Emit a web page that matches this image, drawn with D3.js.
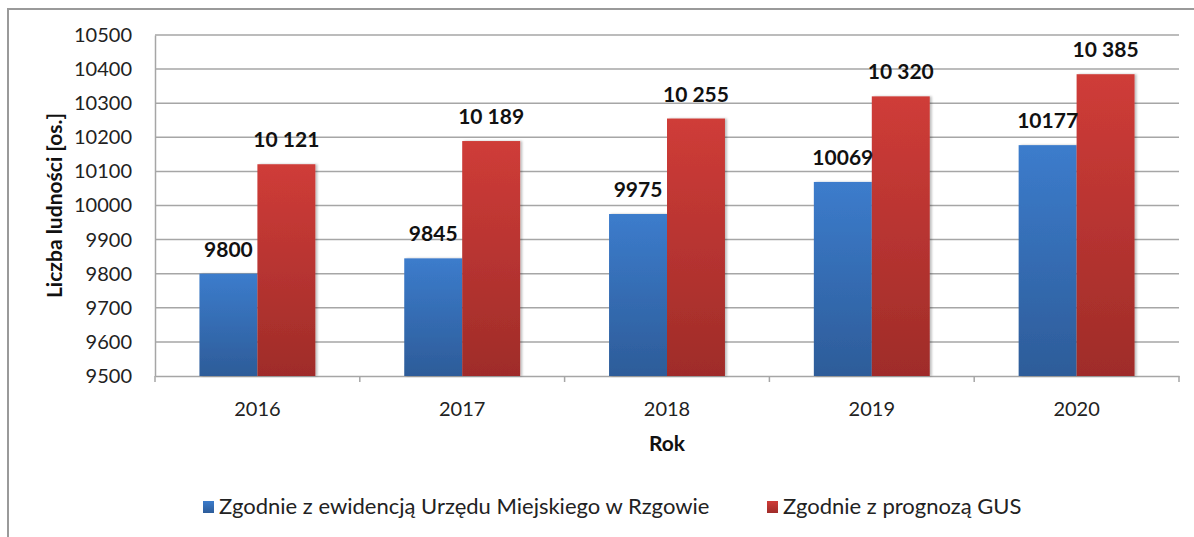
<!DOCTYPE html>
<html>
<head>
<meta charset="utf-8">
<script src="https://cdn.jsdelivr.net/npm/d3@7"></script>
<style>
  html, body { margin: 0; padding: 0; background: #fff; }
  svg { display: block; font-family: Lato, "Open Sans", sans-serif; }
</style>
</head>
<body>
<svg id="chart" width="1194" height="537"></svg>
<script>
// Population of Rzgów, 2016–2020
const years = ["2016", "2017", "2018", "2019", "2020"];
const registry = [9800, 9845, 9975, 10069, 10177];      // Urząd Miejski records
const forecast = [10121, 10189, 10255, 10320, 10385];   // GUS projection
const yTicks = [9500, 9600, 9700, 9800, 9900, 10000, 10100, 10200, 10300, 10400, 10500];
const seriesNames = ["Zgodnie z ewidencją Urzędu Miejskiego w Rzgowie", "Zgodnie z prognozą GUS"];

const svg = d3.select("#chart");
const margin = { left: 155, right: 1179, top: 35, bottom: 376 };

// frame: left and top edges
svg.append("path")
  .attr("d", "M8,537 V9 H1194")
  .attr("fill", "none").attr("stroke", "#9a9a9a").attr("stroke-width", 2);

const defs = svg.append("defs");
function grad(id, top, bottom) {
  const g = defs.append("linearGradient").attr("id", id)
    .attr("x1", 0).attr("y1", 0).attr("x2", 0).attr("y2", 1);
  g.append("stop").attr("offset", "0%").attr("stop-color", top);
  g.append("stop").attr("offset", "100%").attr("stop-color", bottom);
}
grad("gBlue", "#3c7ccc", "#2d5c99");
grad("gRed", "#cf3c38", "#9f2c29");
const shadow = defs.append("filter").attr("id", "shadow")
  .attr("x", "-10%").attr("y", "-5%").attr("width", "130%").attr("height", "110%");
shadow.append("feDropShadow").attr("dx", 2).attr("dy", 0).attr("stdDeviation", 1.2)
  .attr("flood-color", "#000").attr("flood-opacity", 0.25);

const x = d3.scaleBand().domain(years).range([margin.left, margin.right]);
const y = d3.scaleLinear().domain([9500, 10500]).range([margin.bottom, margin.top]);
const barW = x.bandwidth() * 0.283;

// horizontal gridlines
svg.append("g").selectAll("line").data(yTicks.slice(1)).join("line")
  .attr("x1", margin.left).attr("x2", margin.right)
  .attr("y1", d => y(d)).attr("y2", d => y(d))
  .attr("stroke", "#a6a6a6").attr("stroke-width", 1.5);

// y axis
const yAxis = svg.append("g").attr("transform", `translate(${margin.left},0)`)
  .call(d3.axisLeft(y).tickValues(yTicks).tickFormat(d3.format("d")).tickSize(0).tickPadding(23));
yAxis.select(".domain").attr("stroke", "#a6a6a6").attr("stroke-width", 1.5);
yAxis.selectAll("text").attr("font-size", 20).attr("fill", "#222")
  .attr("font-family", "Lato, sans-serif");

// x axis
const xAxis = svg.append("g").attr("transform", `translate(0,${margin.bottom})`)
  .call(d3.axisBottom(x).tickSize(0).tickPadding(26));
xAxis.select(".domain").attr("stroke", "#a6a6a6").attr("stroke-width", 1.5);
xAxis.selectAll("text").attr("font-size", 20).attr("fill", "#222")
  .attr("font-family", "Lato, sans-serif");
// boundary tick marks between categories
const bounds = years.map(d => x(d)).concat([x(years[years.length - 1]) + x.bandwidth()]);
svg.append("g").selectAll("line").data(bounds).join("line")
  .attr("x1", d => d).attr("x2", d => d)
  .attr("y1", margin.bottom).attr("y2", margin.bottom + 6)
  .attr("stroke", "#a6a6a6").attr("stroke-width", 1.5);

// bars
const fmtPlain = d3.format("d");
const fmtSpace = d3.formatLocale({ decimal: ",", thousands: " ", grouping: [3], currency: ["", ""] }).format(",d");
const series = [
  { values: registry, fill: "url(#gBlue)", offset: -barW, fmt: fmtPlain },
  { values: forecast, fill: "url(#gRed)", offset: 0, fmt: fmtSpace }
];
const center = d => x(d) + x.bandwidth() / 2;

series.forEach(s => {
  svg.append("g").selectAll("rect").data(years).join("rect")
    .attr("x", (d) => center(d) + s.offset)
    .attr("width", barW)
    .attr("y", (d, i) => y(s.values[i]))
    .attr("height", (d, i) => y(9500) - y(s.values[i]))
    .attr("fill", s.fill)
    .attr("filter", "url(#shadow)");
});
series.forEach(s => {
  svg.append("g").selectAll("text").data(years).join("text")
    .attr("x", d => center(d) + s.offset + barW / 2)
    .attr("y", (d, i) => y(s.values[i]) - 17)
    .attr("text-anchor", "middle")
    .attr("font-size", 21).attr("font-weight", "bold").attr("fill", "#111")
    .text((d, i) => s.fmt(s.values[i]));
});

// axis titles
svg.append("text")
  .attr("transform", `translate(62,${(margin.top + margin.bottom) / 2}) rotate(-90)`)
  .attr("text-anchor", "middle").attr("font-size", 21).attr("font-weight", "bold").attr("fill", "#111")
  .text("Liczba ludności [os.]");
svg.append("text")
  .attr("x", (margin.left + margin.right) / 2).attr("y", 451)
  .attr("text-anchor", "middle").attr("font-size", 21).attr("font-weight", "bold").attr("fill", "#111")
  .text("Rok");

// legend
const legendX = [203, 767];
const legendFills = ["url(#gBlue)", "url(#gRed)"];
seriesNames.forEach((name, i) => {
  svg.append("rect").attr("x", legendX[i]).attr("y", 501).attr("width", 11).attr("height", 12)
    .attr("fill", legendFills[i]);
  svg.append("text").attr("x", legendX[i] + 16).attr("y", 514)
    .attr("font-size", 22).attr("fill", "#222")
    .text(name);
});
</script>
</body>
</html>
